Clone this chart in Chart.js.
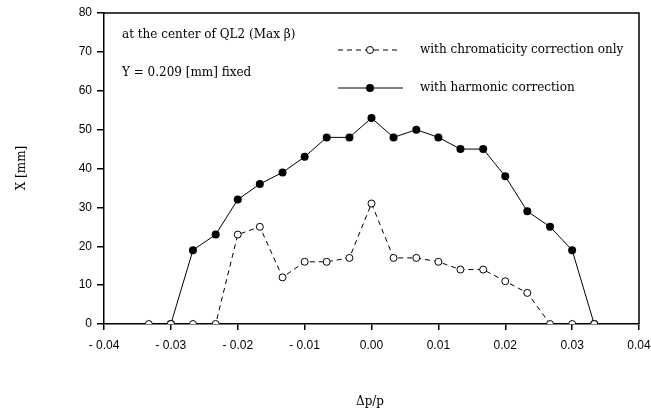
<!DOCTYPE html>
<html>
<head>
<meta charset="utf-8">
<script src="https://cdn.jsdelivr.net/npm/chart.js@4"></script>
<style>
    html, body { margin: 0; padding: 0; background: #fff; }
    #wrap { width: 651px; height: 414px; }
</style>
</head>
<body>
<div id="wrap"><canvas id="chart" width="651" height="414"></canvas></div>
<script>
// momentum deviation (x) for each series
const dpChroma = [-0.0333, -0.03, -0.0267, -0.0233, -0.02, -0.0167, -0.0133, -0.01, -0.0067, -0.0033, 0,
    0.0033, 0.0067, 0.01, 0.0133, 0.0167, 0.02, 0.0233, 0.0267, 0.03, 0.0333];
const xChroma = [0, 0, 0, 0, 23, 25, 12, 16, 16, 17, 31, 17, 17, 16, 14, 14, 11, 8, 0, 0, 0];

const dpHarm = [-0.03, -0.0267, -0.0233, -0.02, -0.0167, -0.0133, -0.01, -0.0067, -0.0033, 0,
    0.0033, 0.0067, 0.01, 0.0133, 0.0167, 0.02, 0.0233, 0.0267, 0.03, 0.0333];
const xHarm = [0, 19, 23, 32, 36, 39, 43, 48, 48, 53, 48, 50, 48, 45, 45, 38, 29, 25, 19, 0];

const xTicks = [-0.04, -0.03, -0.02, -0.01, 0, 0.01, 0.02, 0.03, 0.04];
const yTicks = [0, 10, 20, 30, 40, 50, 60, 70, 80];

const notes = ['at the center of QL2 (Max \u03b2)', 'Y = 0.209 [mm] fixed'];
const legendLabels = ['with chromaticity correction only', 'with harmonic correction'];

const serif = '"DejaVu Serif", "Liberation Serif", serif';
const sans = '"Liberation Sans", Arial, sans-serif';

function fmtTick(v) {
    const r = Math.round(v * 100) / 100;
    if (r < 0) return '- ' + Math.abs(r).toFixed(2);
    return r.toFixed(2);
}

// frame, annotations, legend and axis titles
const decor = {
    id: 'decor',
    afterDraw(chart) {
        const { ctx, chartArea: a } = chart;
        ctx.save();
        ctx.strokeStyle = '#000';
        ctx.lineWidth = 1.5;
        ctx.beginPath();
        ctx.moveTo(a.left, a.top);
        ctx.lineTo(a.right, a.top);
        ctx.lineTo(a.right, a.bottom);
        ctx.stroke();

        ctx.fillStyle = '#000';
        ctx.font = '12px ' + serif;
        ctx.textBaseline = 'middle';
        ctx.textAlign = 'left';
        ctx.fillText(notes[0], 122, 35);
        ctx.fillText(notes[1], 122, 73);

        // legend
        const rows = [50, 88];
        ctx.lineWidth = 1;
        ctx.beginPath();
        ctx.setLineDash([5, 4]);
        ctx.moveTo(338, rows[0]); ctx.lineTo(400, rows[0]);
        ctx.stroke();
        ctx.setLineDash([]);
        ctx.beginPath();
        ctx.moveTo(338, rows[1]); ctx.lineTo(403, rows[1]);
        ctx.stroke();
        ctx.beginPath();
        ctx.arc(370, rows[0], 3.5, 0, Math.PI * 2);
        ctx.fillStyle = '#fff';
        ctx.fill();
        ctx.stroke();
        ctx.beginPath();
        ctx.arc(370, rows[1], 4, 0, Math.PI * 2);
        ctx.fillStyle = '#000';
        ctx.fill();
        ctx.fillText(legendLabels[0], 420, rows[0]);
        ctx.fillText(legendLabels[1], 420, rows[1]);

        // axis titles
        ctx.textAlign = 'center';
        ctx.fillText('\u0394p/p', 370, 402);
        ctx.translate(22, 168);
        ctx.rotate(-Math.PI / 2);
        ctx.fillText('X [mm]', 0, 0);
        ctx.restore();
    }
};

new Chart(document.getElementById('chart'), {
    type: 'scatter',
    data: {
        datasets: [{
            label: legendLabels[0],
            data: dpChroma.map((x, i) => ({ x: x, y: xChroma[i] })),
            showLine: true,
            borderColor: '#000',
            borderWidth: 1,
            borderDash: [5, 4],
            pointStyle: 'circle',
            pointRadius: 3.5,
            pointBorderWidth: 1,
            pointBackgroundColor: '#fff',
            pointBorderColor: '#000'
        }, {
            label: legendLabels[1],
            data: dpHarm.map((x, i) => ({ x: x, y: xHarm[i] })),
            showLine: true,
            borderColor: '#000',
            borderWidth: 1,
            pointRadius: 4,
            pointBorderWidth: 0,
            pointBackgroundColor: '#000',
            pointBorderColor: '#000'
        }]
    },
    options: {
        responsive: false,
        animation: false,
        layout: { padding: { top: 13, right: 12, left: 0, bottom: 0 } },
        plugins: {
            legend: { display: false },
            tooltip: { enabled: false }
        },
        scales: {
            x: {
                type: 'linear',
                min: -0.04,
                max: 0.04,
                afterBuildTicks: (s) => { s.ticks = xTicks.map(v => ({ value: v })); },
                afterFit: (s) => { s.height = 90; s.paddingRight = 0; s.paddingLeft = 0; },
                grid: { drawOnChartArea: false, drawTicks: true, tickLength: 6, color: '#000', lineWidth: 1.5 },
                border: { display: true, color: '#000', width: 1.5 },
                ticks: {
                    color: '#000',
                    padding: 8,
                    maxRotation: 0,
                    font: { family: sans, size: 12 },
                    callback: (v) => fmtTick(v)
                }
            },
            y: {
                min: 0,
                max: 80,
                afterBuildTicks: (s) => { s.ticks = yTicks.map(v => ({ value: v })); },
                afterFit: (s) => { s.width = 104; },
                grid: { drawOnChartArea: false, drawTicks: true, tickLength: 7, color: '#000', lineWidth: 1.5 },
                border: { display: true, color: '#000', width: 1.5 },
                ticks: {
                    color: '#000',
                    padding: 5,
                    font: { family: sans, size: 12 }
                }
            }
        }
    },
    plugins: [decor]
});
</script>
</body>
</html>
